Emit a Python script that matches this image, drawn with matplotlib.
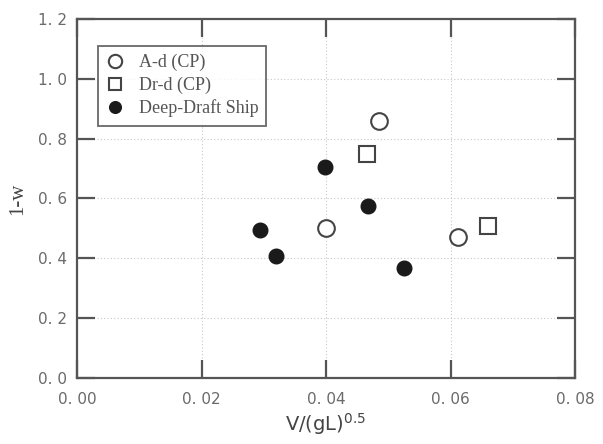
import matplotlib

matplotlib.use("Agg")
import matplotlib.pyplot as plt
from matplotlib.ticker import FixedLocator, FixedFormatter

# data
ad_x = [0.0485, 0.0400, 0.0612]
ad_y = [0.859, 0.501, 0.471]
drd_x = [0.0466, 0.0660]
drd_y = [0.749, 0.508]
ship_x = [0.0398, 0.0294, 0.0320, 0.0467, 0.0525]
ship_y = [0.705, 0.495, 0.408, 0.575, 0.368]

x_ticks = [0.00, 0.02, 0.04, 0.06, 0.08]
x_labels = ["0. 00", "0. 02", "0. 04", "0. 06", "0. 08"]
y_ticks = [0.0, 0.2, 0.4, 0.6, 0.8, 1.0, 1.2]
y_labels = ["0. 0", "0. 2", "0. 4", "0. 6", "0. 8", "1. 0", "1. 2"]

SPINE = "#555555"
TICK_TEXT = "#6a6a6a"

fig = plt.figure(figsize=(6.03, 4.44), dpi=100, facecolor="white")
ax = fig.add_axes([77 / 603, 66 / 444, 498 / 603, 359 / 444])

ax.plot(ad_x, ad_y, "o", ms=12, mfc="white", mec="#444444", mew=1.5, ls="none", label="A-d (CP)")
ax.plot(drd_x, drd_y, "s", ms=11.5, mfc="white", mec="#444444", mew=1.5, ls="none", label="Dr-d (CP)")
ax.plot(ship_x, ship_y, "o", ms=10.5, mfc="#1a1a1a", mec="#1a1a1a", ls="none", label="Deep-Draft Ship")

ax.set_xlim(0, 0.08)
ax.set_ylim(0, 1.2)
ax.xaxis.set_major_locator(FixedLocator(x_ticks))
ax.xaxis.set_major_formatter(FixedFormatter(x_labels))
ax.yaxis.set_major_locator(FixedLocator(y_ticks))
ax.yaxis.set_major_formatter(FixedFormatter(y_labels))

ax.grid(True, color="#c8c8c8", linestyle=(0, (1, 2)), linewidth=0.8)
ax.set_axisbelow(True)

for spine in ax.spines.values():
    spine.set_color(SPINE)
    spine.set_linewidth(1.6)

ax.tick_params(direction="in", length=13, width=1.6, color=SPINE,
               top=True, right=True, labelsize=11, labelcolor=TICK_TEXT)
ax.tick_params(axis="x", pad=10)
ax.tick_params(axis="y", pad=7)
for lab in ax.get_xticklabels() + ax.get_yticklabels():
    lab.set_family("DejaVu Sans")

ax.set_xlabel(r"V/(gL)$^{0.5}$", fontsize=14, color="#444444", family="DejaVu Sans", labelpad=3)
ax.set_ylabel("1-w", fontsize=15, color="#444444", family="Liberation Serif", labelpad=8)

leg = ax.legend(loc="upper left", bbox_to_anchor=(0.042, 0.925), frameon=True, fancybox=False,
                prop={"family": "Liberation Serif", "size": 13}, handletextpad=0.8,
                borderpad=0.45, labelspacing=0.3, borderaxespad=0, handlelength=1.0,
                markerscale=0.8)
leg.get_frame().set_edgecolor("#444444")
leg.get_frame().set_linewidth(1.3)
for t in leg.get_texts():
    t.set_color("#555555")

fig.savefig("out.png", dpi=100, facecolor="white")
